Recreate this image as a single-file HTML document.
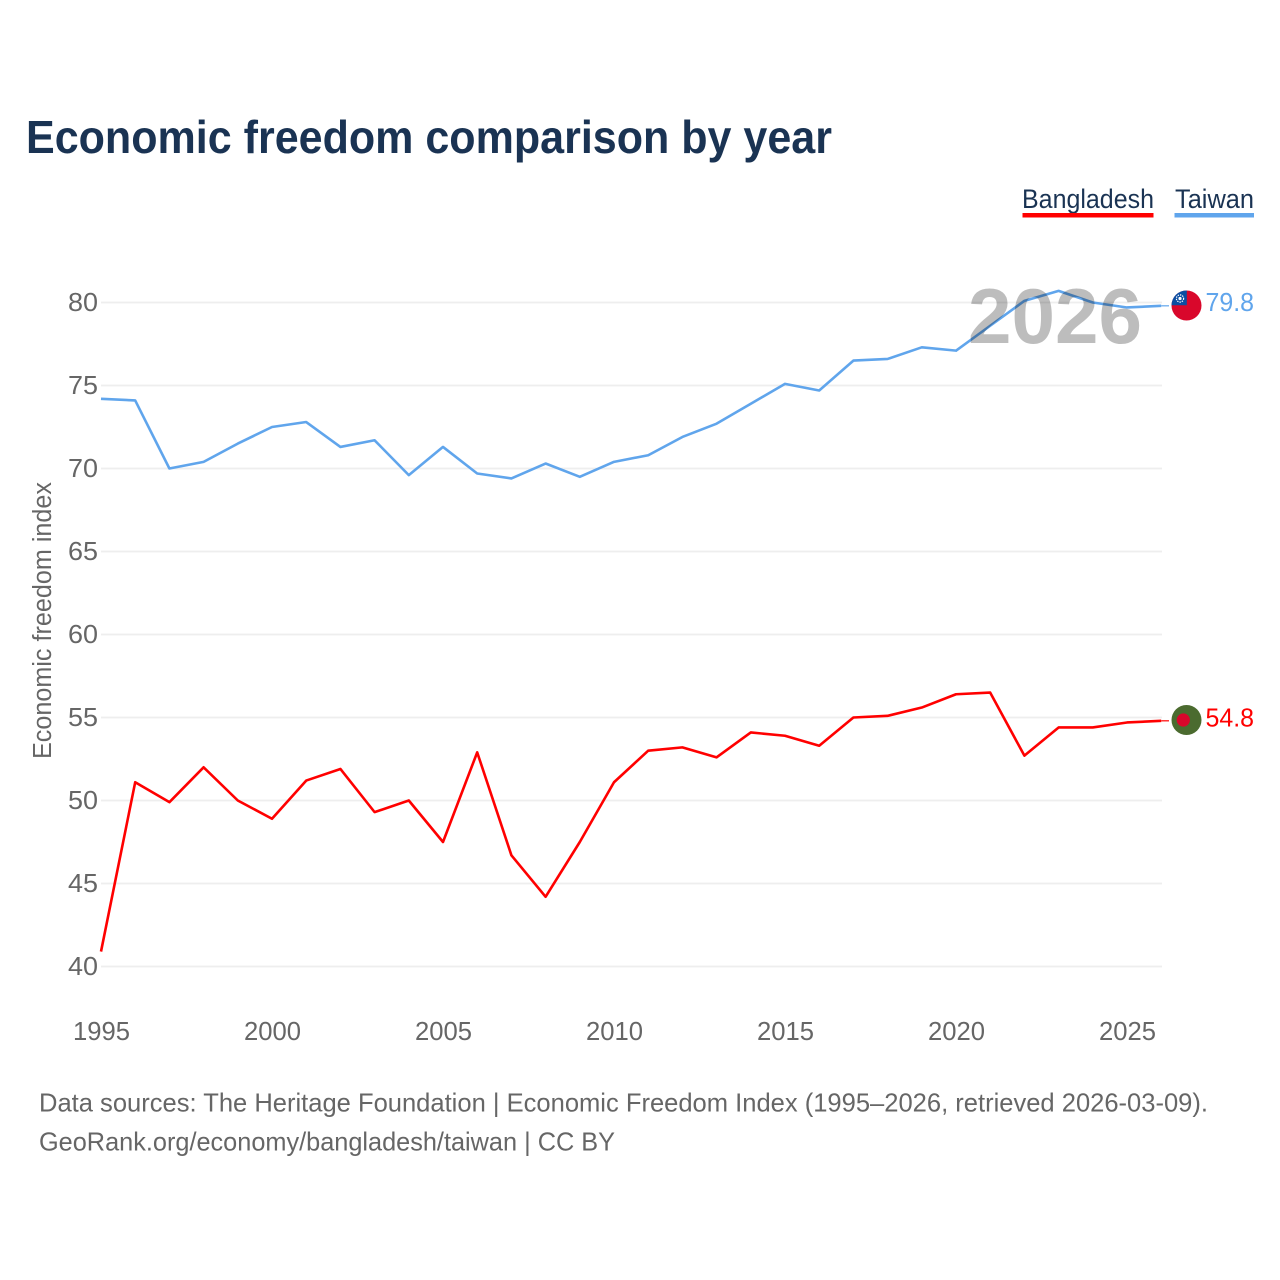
<!DOCTYPE html>
<html lang="en">
<head>
<meta charset="utf-8">
<title>Economic freedom comparison by year</title>
<style>
html,body{margin:0;padding:0;background:#fff;width:1280px;height:1280px;overflow:hidden}
svg{display:block}
text{font-family:"Liberation Sans",sans-serif}
</style>
</head>
<body>
<svg id="chart" xmlns="http://www.w3.org/2000/svg" width="1280" height="1280" viewBox="0 0 1280 1280">
  <rect x="0" y="0" width="1280" height="1280" fill="#ffffff"/>
  <text x="26" y="153" font-size="46" font-weight="700" fill="#1a3353" textLength="806" lengthAdjust="spacingAndGlyphs">Economic freedom comparison by year</text>

  <g>
    <text x="1022" y="208" font-size="27" fill="#1a3353" textLength="132" lengthAdjust="spacingAndGlyphs">Bangladesh</text>
    <rect x="1022.5" y="213" width="131" height="4.5" fill="#ff0000"/>
  </g>
  <g>
    <text x="1175" y="208" font-size="27" fill="#1a3353" textLength="79" lengthAdjust="spacingAndGlyphs">Taiwan</text>
    <rect x="1174.5" y="213" width="79.5" height="4.5" fill="#60a5ec"/>
  </g>

  <g id="grid"></g>
  <g id="yticks"></g>
  <g id="xticks"></g>
  <text transform="translate(51,620.5) rotate(-90)" text-anchor="middle" font-size="25.5" fill="#666666" textLength="277" lengthAdjust="spacingAndGlyphs">Economic freedom index</text>

  <g id="series"></g>

  <text x="968" y="343" font-size="78" font-weight="700" fill="#000000" fill-opacity="0.26" textLength="174" lengthAdjust="spacingAndGlyphs">2026</text>

  <g>
    <circle cx="1186.5" cy="305.5" r="15" fill="#d9072b"/>
    <path d="M1186.8 290.5 A15 15 0 0 0 1171.5 305.2 L1186.8 305.2 Z" fill="#0b4ea2"/>
    <circle cx="1180" cy="298.5" r="3.6" fill="#0b4ea2" stroke="#ffffff" stroke-width="1.2" stroke-dasharray="1.4 1"/>
    <circle cx="1180" cy="298.5" r="1.6" fill="#ffffff"/>
  </g>
  <g>
    <circle cx="1186.5" cy="720" r="15" fill="#4b6b2f"/>
    <circle cx="1183.3" cy="720" r="6.6" fill="#d9072b"/>
  </g>

  <text x="1205.5" y="311" font-size="26" fill="#60a5ec" textLength="48.5" lengthAdjust="spacingAndGlyphs">79.8</text>
  <text x="1205.5" y="726.5" font-size="26" fill="#ff0000" textLength="48.5" lengthAdjust="spacingAndGlyphs">54.8</text>

  <text x="39" y="1111.5" font-size="26" fill="#666666" textLength="1169" lengthAdjust="spacingAndGlyphs">Data sources: The Heritage Foundation | Economic Freedom Index (1995–2026, retrieved 2026-03-09).</text>
  <text x="39" y="1150.5" font-size="26" fill="#666666" textLength="576" lengthAdjust="spacingAndGlyphs">GeoRank.org/economy/bangladesh/taiwan | CC BY</text>
</svg>
<script>
const years = [1995,1996,1997,1998,1999,2000,2001,2002,2003,2004,2005,2006,2007,2008,2009,2010,2011,2012,2013,2014,2015,2016,2017,2018,2019,2020,2021,2022,2023,2024,2025,2026];
const taiwanValues = [74.2,74.1,70.0,70.4,71.5,72.5,72.8,71.3,71.7,69.6,71.3,69.7,69.4,70.3,69.5,70.4,70.8,71.9,72.7,73.9,75.1,74.7,76.5,76.6,77.3,77.1,78.6,80.1,80.7,80.0,79.7,79.8];
const bangladeshValues = [40.9,51.1,49.9,52.0,50.0,48.9,51.2,51.9,49.3,50.0,47.5,52.9,46.7,44.2,47.5,51.1,53.0,53.2,52.6,54.1,53.9,53.3,55.0,55.1,55.6,56.4,56.5,52.7,54.4,54.4,54.7,54.8];
const yTickValues = [40,45,50,55,60,65,70,75,80];
const xTickValues = [1995,2000,2005,2010,2015,2020,2025];

const NS = 'http://www.w3.org/2000/svg';
function xScale(year) { return 101 + (year - 1995) * (1127 - 101) / 30; }
function yScale(v) { return 966.5 - (v - 40) * (966.5 - 302.5) / 40; }
function make(tag, attrs, parent) {
  const el = document.createElementNS(NS, tag);
  for (const k in attrs) el.setAttribute(k, attrs[k]);
  parent.appendChild(el);
  return el;
}

const grid = document.getElementById('grid');
const yticks = document.getElementById('yticks');
const xticks = document.getElementById('xticks');
const series = document.getElementById('series');

yTickValues.forEach(function (v) {
  const line = make('line', {x1: 101, x2: 1162, y1: yScale(v), y2: yScale(v), stroke: '#eeeeee', 'stroke-width': 1.7}, grid);
  
  
  const label = make('text', {x: 68, y: yScale(v) + 8.5, 'font-size': 26, fill: '#666666', textLength: 30, lengthAdjust: 'spacingAndGlyphs'}, yticks);
  label.textContent = String(v);
  
  
});

xTickValues.forEach(function (y) {
  const label = make('text', {x: xScale(y) - 28, y: 1040, 'font-size': 26, fill: '#666666', textLength: 57, lengthAdjust: 'spacingAndGlyphs'}, xticks);
  label.textContent = String(y);
  
  
});

function drawSeries(values, color, name) {
  const pts = values.map(function (v, i) { return xScale(years[i]) + ',' + yScale(v); }).join(' ');
  const path = make('polyline', {points: pts, fill: 'none', stroke: color, 'stroke-width': 2.6, 'stroke-linejoin': 'round'}, series);
  
  
  const lastIndex = values.length - 1;
  const connector = make('line', {x1: xScale(years[lastIndex]), x2: 1169, y1: yScale(values[lastIndex]), y2: yScale(values[lastIndex]), stroke: color, 'stroke-width': 1.2}, series);
  
  
}
drawSeries(taiwanValues, '#60a5ec', 'taiwan');
drawSeries(bangladeshValues, '#ff0000', 'bangladesh');
</script>
</body>
</html>
